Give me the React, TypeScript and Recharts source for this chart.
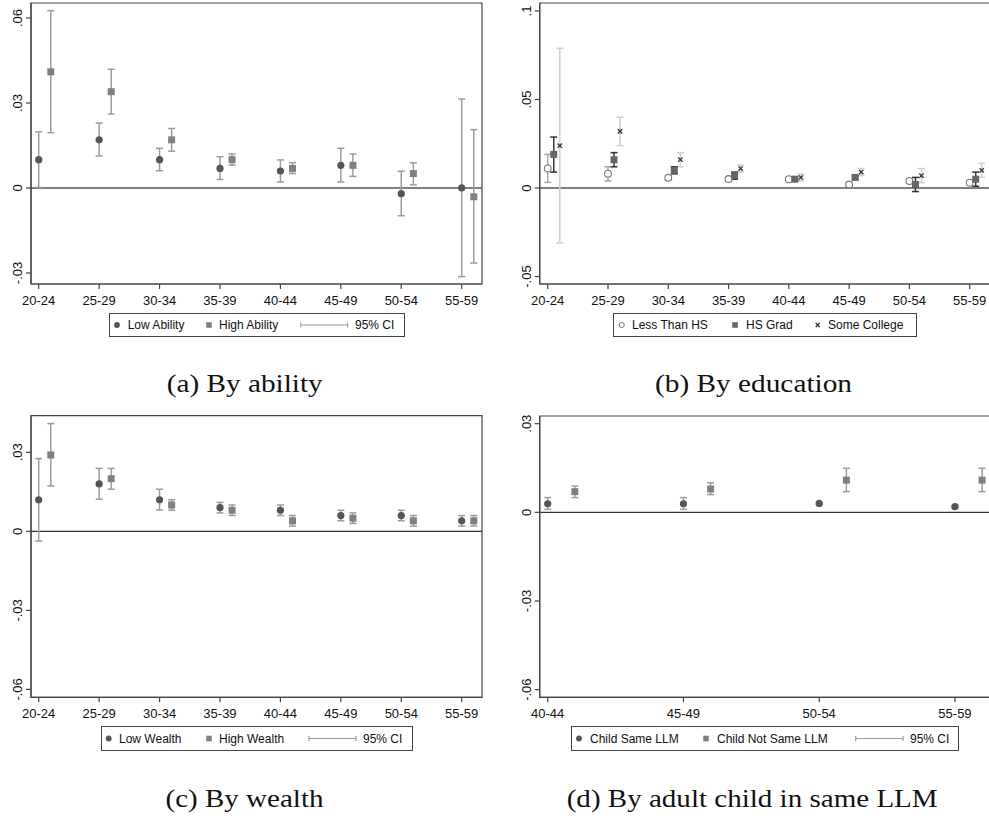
import React from 'react';
import { ScatterChart, Scatter, XAxis, YAxis, ErrorBar, ReferenceLine, ReferenceArea } from 'recharts';

// ---------- categories & tick labels ----------
const AGE_GROUPS = ['20-24', '25-29', '30-34', '35-39', '40-44', '45-49', '50-54', '55-59'];
const AGE_GROUPS_LLM = ['40-44', '45-49', '50-54', '55-59'];

const Y_TICKS_A = [-0.03, 0, 0.03, 0.06];
const Y_LABELS_A = ['-.03', '0', '.03', '.06'];
const Y_TICKS_B = [-0.05, 0, 0.05, 0.1];
const Y_LABELS_B = ['-.05', '0', '.05', '.1'];
const Y_TICKS_C = [-0.06, -0.03, 0, 0.03];
const Y_LABELS_C = ['-.06', '-.03', '0', '.03'];
const Y_TICKS_D = [-0.06, -0.03, 0, 0.03];
const Y_LABELS_D = ['-.06', '-.03', '0', '.03'];

// ---------- (a) By ability ----------
const lowAbility = [0.010, 0.017, 0.010, 0.0069, 0.006, 0.008, -0.002, 0.0];
const lowAbilityLo = [0.0002, 0.0113, 0.0061, 0.003, 0.0021, 0.0021, -0.0098, -0.0313];
const lowAbilityHi = [0.0198, 0.0229, 0.014, 0.011, 0.0099, 0.014, 0.0059, 0.0314];
const highAbility = [0.041, 0.034, 0.017, 0.010, 0.0069, 0.008, 0.0051, -0.0031];
const highAbilityLo = [0.0195, 0.0261, 0.013, 0.0081, 0.0051, 0.0041, 0.0011, -0.0265];
const highAbilityHi = [0.0626, 0.0419, 0.021, 0.012, 0.0089, 0.012, 0.0089, 0.0206];

// ---------- (b) By education ----------
const lessHS = [0.0111, 0.0081, 0.0058, 0.0051, 0.005, 0.002, 0.004, 0.003];
const lessHSLo = [0.0032, 0.004, 0.0045, 0.004, 0.004, 0.0012, 0.003, 0.002];
const lessHSHi = [0.019, 0.012, 0.007, 0.0062, 0.006, 0.0028, 0.005, 0.004];
const hsGrad = [0.019, 0.016, 0.010, 0.007, 0.005, 0.006, 0.002, 0.005];
const hsGradLo = [0.009, 0.012, 0.008, 0.005, 0.004, 0.005, -0.002, 0.001];
const hsGradHi = [0.0288, 0.020, 0.012, 0.009, 0.006, 0.007, 0.006, 0.009];
const someCollege = [0.0239, 0.032, 0.016, 0.011, 0.006, 0.009, 0.007, 0.010];
const someCollegeLo = [-0.0309, 0.024, 0.012, 0.009, 0.004, 0.007, 0.003, 0.006];
const someCollegeHi = [0.0789, 0.040, 0.020, 0.013, 0.008, 0.011, 0.011, 0.014];

// ---------- (c) By wealth ----------
const lowWealth = [0.012, 0.018, 0.012, 0.009, 0.008, 0.006, 0.006, 0.004];
const lowWealthLo = [-0.0037, 0.0122, 0.0081, 0.007, 0.006, 0.004, 0.004, 0.002];
const lowWealthHi = [0.0276, 0.0239, 0.016, 0.011, 0.010, 0.008, 0.008, 0.006];
const highWealth = [0.029, 0.020, 0.010, 0.008, 0.004, 0.005, 0.004, 0.004];
const highWealthLo = [0.0172, 0.016, 0.008, 0.006, 0.002, 0.003, 0.002, 0.002];
const highWealthHi = [0.0409, 0.0239, 0.012, 0.010, 0.006, 0.007, 0.006, 0.006];

// ---------- (d) By adult child in same LLM ----------
const childSame = [0.0029, 0.0029, 0.003, 0.0019];
const childSameLo = [0.001, 0.001, 0.0027, 0.0016];
const childSameHi = [0.005, 0.005, 0.0033, 0.0022];
const childNotSame = [0.007, 0.0079, 0.0109, 0.0109];
const childNotSameLo = [0.005, 0.006, 0.007, 0.007];
const childNotSameHi = [0.0089, 0.010, 0.0149, 0.0149];

// ---------- helpers ----------
const SANS = '"Liberation Sans", Arial, sans-serif';
const SERIF = '"Liberation Serif", "Times New Roman", serif';

function buildTable(est: number[], lo: number[], hi: number[], offset: number) {
  return est.map((v, i) => ({
    x: i + 1 + offset,
    y: v,
    err: [v - lo[i], hi[i] - v],
  }));
}

type Sym = 'circle' | 'square' | 'hollow' | 'cross';

function makeShape(sym: Sym, color: string) {
  return (props: any) => {
    const { cx, cy } = props;
    if (cx == null || cy == null) return <g />;
    if (sym === 'circle') return <circle cx={cx} cy={cy} r={3.6} fill={color} />;
    if (sym === 'square') return <rect x={cx - 3.5} y={cy - 3.5} width={7} height={7} fill={color} />;
    if (sym === 'hollow')
      return <circle cx={cx} cy={cy} r={3.4} fill="#fff" stroke={color} strokeWidth={1.1} />;
    return (
      <g stroke={color} strokeWidth={1.3}>
        <line x1={cx - 2.2} y1={cy - 2.2} x2={cx + 2.2} y2={cy + 2.2} />
        <line x1={cx - 2.2} y1={cy + 2.2} x2={cx + 2.2} y2={cy - 2.2} />
      </g>
    );
  };
}

interface SeriesSpec {
  name: string;
  table: { x: number; y: number; err: number[] }[];
  sym: Sym;
  color: string;
  ciColor: string;
}

interface PanelProps {
  left: number;
  top: number;
  width: number;
  height: number;
  margin: { top: number; right: number; left: number; bottom: number };
  yAxisWidth: number;
  xAxisHeight: number;
  xDomain: [number, number];
  yDomain: [number, number];
  xLabels: string[];
  yTicks: number[];
  yLabels: string[];
  series: SeriesSpec[];
  zeroColor: string;
}

function Panel(p: PanelProps) {
  const xTicks = p.xLabels.map((_, i) => i + 1);
  const XTick = (tp: any) => {
    const idx = Math.round(tp.payload.value) - 1;
    return (
      <text x={tp.x} y={tp.y + 14} textAnchor="middle" fontSize={13} fontFamily={SANS} fill="#111">
        {p.xLabels[idx]}
      </text>
    );
  };
  const YTick = (tp: any) => {
    const idx = p.yTicks.findIndex((t) => Math.abs(t - tp.payload.value) < 1e-9);
    const cx = tp.x - 6;
    return (
      <text
        x={cx}
        y={tp.y}
        transform={`rotate(-90 ${cx} ${tp.y})`}
        textAnchor="middle"
        dominantBaseline="central"
        fontSize={13}
        fontFamily={SANS}
        fill="#111"
      >
        {idx >= 0 ? p.yLabels[idx] : ''}
      </text>
    );
  };
  return (
    <div style={{ position: 'absolute', left: p.left, top: p.top }}>
      <ScatterChart width={p.width} height={p.height} margin={p.margin}>
        <XAxis
          type="number"
          dataKey="x"
          domain={p.xDomain}
          ticks={xTicks}
          interval={0}
          allowDataOverflow
          height={p.xAxisHeight}
          tickSize={5}
          tickMargin={2}
          axisLine={{ stroke: '#444', strokeWidth: 1.2 }}
          tickLine={{ stroke: '#444', strokeWidth: 1.2 }}
          tick={XTick}
        />
        <YAxis
          type="number"
          dataKey="y"
          domain={p.yDomain}
          ticks={p.yTicks}
          interval={0}
          allowDataOverflow
          width={p.yAxisWidth}
          tickSize={5}
          tickMargin={2}
          axisLine={{ stroke: '#444', strokeWidth: 1.2 }}
          tickLine={{ stroke: '#444', strokeWidth: 1.2 }}
          tick={YTick}
        />
        <ReferenceArea
          x1={p.xDomain[0]}
          x2={p.xDomain[1]}
          y1={p.yDomain[0]}
          y2={p.yDomain[1]}
          fill="none"
          fillOpacity={0}
          stroke="#444"
          strokeWidth={1.2}
        />
        <ReferenceLine y={0} stroke={p.zeroColor} strokeWidth={1.4} />
        {p.series.map((s) => (
          <Scatter
            key={s.name}
            name={s.name}
            data={s.table}
            shape={makeShape(s.sym, s.color)}
            isAnimationActive={false}
          >
            <ErrorBar
              dataKey="err"
              direction="y"
              width={3.5}
              stroke={s.ciColor}
              strokeWidth={1.5}
              isAnimationActive={false}
            />
          </Scatter>
        ))}
      </ScatterChart>
    </div>
  );
}

interface LegendEntry {
  sym: Sym | 'ci';
  color: string;
  sx: number;
  sx2?: number;
  tx: number;
  label: string;
}

function LegendBox({ left, top, width, height, entries }: { left: number; top: number; width: number; height: number; entries: LegendEntry[] }) {
  const cy = height / 2;
  return (
    <svg style={{ position: 'absolute', left, top }} width={width + 2} height={height + 2}>
      <rect x={0.5} y={0.5} width={width} height={height} fill="#fff" stroke="#444" strokeWidth={1} />
      {entries.map((e, i) => {
        let symbol: React.ReactNode = null;
        if (e.sym === 'circle') symbol = <circle cx={e.sx} cy={cy + 0.5} r={2.9} fill={e.color} />;
        else if (e.sym === 'square') symbol = <rect x={e.sx - 2.8} y={cy - 2.3} width={5.6} height={5.6} fill={e.color} />;
        else if (e.sym === 'hollow') symbol = <circle cx={e.sx} cy={cy + 0.5} r={2.6} fill="#fff" stroke={e.color} strokeWidth={1} />;
        else if (e.sym === 'cross')
          symbol = (
            <g stroke={e.color} strokeWidth={1.2}>
              <line x1={e.sx - 2} y1={cy - 1.5} x2={e.sx + 2} y2={cy + 2.5} />
              <line x1={e.sx - 2} y1={cy + 2.5} x2={e.sx + 2} y2={cy - 1.5} />
            </g>
          );
        else
          symbol = (
            <g stroke={e.color} strokeWidth={1.2}>
              <line x1={e.sx} y1={cy + 0.5} x2={e.sx2} y2={cy + 0.5} />
              <line x1={e.sx} y1={cy - 2} x2={e.sx} y2={cy + 3} />
              <line x1={e.sx2} y1={cy - 2} x2={e.sx2} y2={cy + 3} />
            </g>
          );
        return (
          <g key={i}>
            {symbol}
            <text x={e.tx} y={cy + 0.5} dominantBaseline="central" fontSize={12} fontFamily={SANS} fill="#111">
              {e.label}
            </text>
          </g>
        );
      })}
    </svg>
  );
}

const C_DARK = '#555555';
const C_MID = '#808080';
const C_CI = '#9c9c9c';

export default function App() {
  const seriesA: SeriesSpec[] = [
    { name: 'Low Ability', table: buildTable(lowAbility, lowAbilityLo, lowAbilityHi, 0), sym: 'circle', color: C_DARK, ciColor: C_CI },
    { name: 'High Ability', table: buildTable(highAbility, highAbilityLo, highAbilityHi, 0.2), sym: 'square', color: C_MID, ciColor: C_CI },
  ];
  const seriesB: SeriesSpec[] = [
    { name: 'Less Than HS', table: buildTable(lessHS, lessHSLo, lessHSHi, 0), sym: 'hollow', color: '#7a7a7a', ciColor: '#a8a8a8' },
    { name: 'Some College', table: buildTable(someCollege, someCollegeLo, someCollegeHi, 0.2), sym: 'cross', color: '#333333', ciColor: '#d0d0d0' },
    { name: 'HS Grad', table: buildTable(hsGrad, hsGradLo, hsGradHi, 0.1), sym: 'square', color: '#666666', ciColor: '#333333' },
  ];
  const seriesC: SeriesSpec[] = [
    { name: 'Low Wealth', table: buildTable(lowWealth, lowWealthLo, lowWealthHi, 0), sym: 'circle', color: C_DARK, ciColor: C_CI },
    { name: 'High Wealth', table: buildTable(highWealth, highWealthLo, highWealthHi, 0.2), sym: 'square', color: C_MID, ciColor: C_CI },
  ];
  const seriesD: SeriesSpec[] = [
    { name: 'Child Same LLM', table: buildTable(childSame, childSameLo, childSameHi, 0), sym: 'circle', color: C_DARK, ciColor: C_CI },
    { name: 'Child Not Same LLM', table: buildTable(childNotSame, childNotSameLo, childNotSameHi, 0.2), sym: 'square', color: C_MID, ciColor: C_CI },
  ];

  return (
    <div style={{ position: 'absolute', left: 0, top: 0, width: 989, height: 816, overflow: 'hidden', background: '#fff' }}>
      <Panel
        left={0}
        top={0}
        width={495}
        height={310}
        margin={{ top: 3, right: 13, left: 0, bottom: 0 }}
        yAxisWidth={31}
        xAxisHeight={26}
        xDomain={[0.8726, 8.336]}
        yDomain={[-0.0339, 0.0653]}
        xLabels={AGE_GROUPS}
        yTicks={Y_TICKS_A}
        yLabels={Y_LABELS_A}
        series={seriesA}
        zeroColor="#555"
      />
      <Panel
        left={495}
        top={0}
        width={505}
        height={310}
        margin={{ top: 3, right: 10, left: 0, bottom: 0 }}
        yAxisWidth={44.7}
        xAxisHeight={26}
        xDomain={[0.867, 8.337]}
        yDomain={[-0.0542, 0.1045]}
        xLabels={AGE_GROUPS}
        yTicks={Y_TICKS_B}
        yLabels={Y_LABELS_B}
        series={seriesB}
        zeroColor="#555"
      />
      <Panel
        left={0}
        top={410}
        width={495}
        height={310}
        margin={{ top: 5.7, right: 13, left: 0, bottom: 0 }}
        yAxisWidth={31}
        xAxisHeight={22.7}
        xDomain={[0.8726, 8.336]}
        yDomain={[-0.063, 0.0439]}
        xLabels={AGE_GROUPS}
        yTicks={Y_TICKS_C}
        yLabels={Y_LABELS_C}
        series={seriesC}
        zeroColor="#333"
      />
      <Panel
        left={495}
        top={410}
        width={505}
        height={310}
        margin={{ top: 6, right: 10, left: 0, bottom: 0 }}
        yAxisWidth={44.7}
        xAxisHeight={22.7}
        xDomain={[0.941, 4.258]}
        yDomain={[-0.0626, 0.0326]}
        xLabels={AGE_GROUPS_LLM}
        yTicks={Y_TICKS_D}
        yLabels={Y_LABELS_D}
        series={seriesD}
        zeroColor="#333"
      />

      <LegendBox
        left={109}
        top={313}
        width={295}
        height={23}
        entries={[
          { sym: 'circle', color: C_DARK, sx: 8, tx: 18.7, label: 'Low Ability' },
          { sym: 'square', color: C_MID, sx: 100, tx: 110, label: 'High Ability' },
          { sym: 'ci', color: C_CI, sx: 191.7, sx2: 238.7, tx: 246, label: '95% CI' },
        ]}
      />
      <LegendBox
        left={613}
        top={313}
        width={303}
        height={23}
        entries={[
          { sym: 'hollow', color: '#7a7a7a', sx: 8.7, tx: 19, label: 'Less Than HS' },
          { sym: 'square', color: '#666666', sx: 122, tx: 133, label: 'HS Grad' },
          { sym: 'cross', color: '#333333', sx: 204.7, tx: 215, label: 'Some College' },
        ]}
      />
      <LegendBox
        left={101}
        top={726}
        width={311}
        height={24}
        entries={[
          { sym: 'circle', color: C_DARK, sx: 7.7, tx: 18, label: 'Low Wealth' },
          { sym: 'square', color: C_MID, sx: 108, tx: 118, label: 'High Wealth' },
          { sym: 'ci', color: C_CI, sx: 208, sx2: 255, tx: 262, label: '95% CI' },
        ]}
      />
      <LegendBox
        left={571}
        top={726}
        width={387}
        height={24}
        entries={[
          { sym: 'circle', color: C_DARK, sx: 8, tx: 19, label: 'Child Same LLM' },
          { sym: 'square', color: C_MID, sx: 135, tx: 146, label: 'Child Not Same LLM' },
          { sym: 'ci', color: C_CI, sx: 284.7, sx2: 332, tx: 339, label: '95% CI' },
        ]}
      />

      <svg style={{ position: 'absolute', left: 0, top: 0, pointerEvents: 'none' }} width={989} height={816}>
        <g fontFamily={SERIF} fontSize={25} fill="#111" textAnchor="middle">
          <text x={244.7} y={391.7} textLength={156} lengthAdjust="spacingAndGlyphs">(a) By ability</text>
          <text x={753.5} y={391.7} textLength={197} lengthAdjust="spacingAndGlyphs">(b) By education</text>
          <text x={244.5} y={806.5} textLength={158} lengthAdjust="spacingAndGlyphs">(c) By wealth</text>
          <text x={752.2} y={806.7} textLength={371} lengthAdjust="spacingAndGlyphs">(d) By adult child in same LLM</text>
        </g>
      </svg>
    </div>
  );
}
